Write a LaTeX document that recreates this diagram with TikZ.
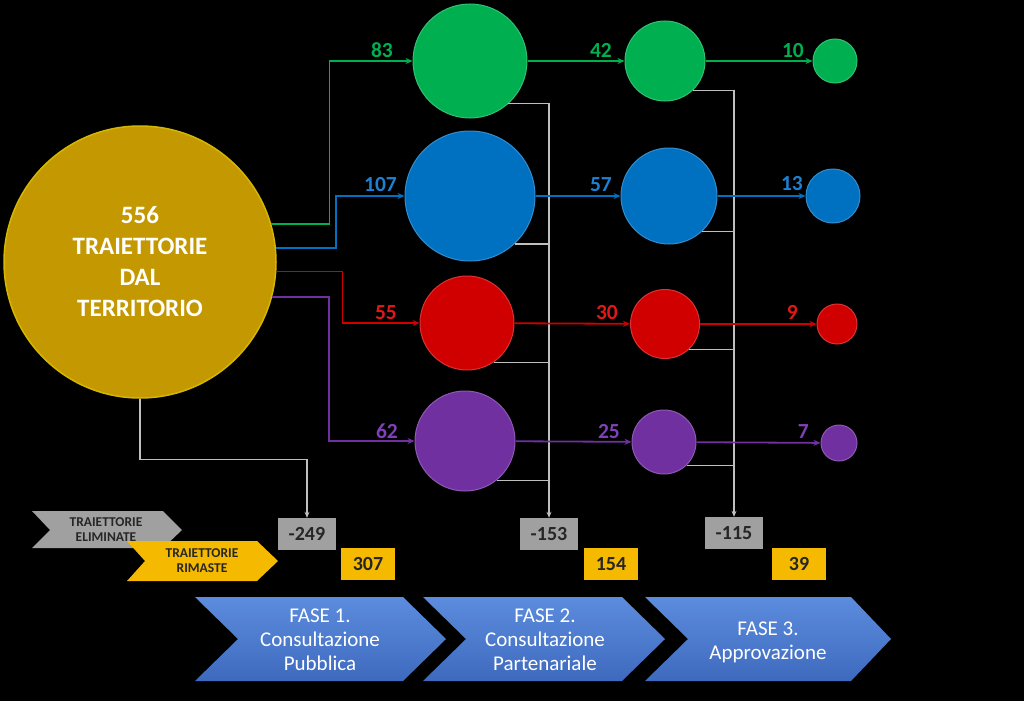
\documentclass[tikz,border=0pt]{standalone}
\usepackage{fontspec}
\setmainfont{Carlito}
\usetikzlibrary{arrows.meta}

\definecolor{gold}{RGB}{196,152,0}
\definecolor{boxgold}{RGB}{245,186,0}
\definecolor{grn}{RGB}{0,176,80}
\definecolor{blu}{RGB}{0,112,192}
\definecolor{rd}{RGB}{208,0,0}
\definecolor{prp}{RGB}{112,48,160}
\definecolor{lgrn}{RGB}{0,176,80}
\definecolor{lblu}{RGB}{30,128,210}
\definecolor{lrd}{RGB}{224,24,24}
\definecolor{lprp}{RGB}{128,64,184}
\definecolor{lgray}{RGB}{191,191,191}
\definecolor{boxgray}{RGB}{160,160,160}
\definecolor{txtdark}{RGB}{38,38,38}
\definecolor{phase}{RGB}{62,106,190}
\definecolor{phasehi}{RGB}{92,140,222}

\begin{document}
\begin{tikzpicture}[x=1pt, y=-1pt,
    ball/.style={circle, fill=#1, draw=#1!80!white, line width=1pt, inner sep=0pt},
    flow/.style={draw=#1, line width=1.8pt, -{Stealth[length=7pt,width=6pt]}},
    drop/.style={draw=lgray, line width=1.3pt},
    num/.style={text=#1, font=\fontsize{21.5}{21.5}\selectfont\bfseries, anchor=base east, inner sep=0pt},
    tally/.style={minimum width=58pt, minimum height=32pt, inner sep=0pt, text=txtdark, font=\fontsize{20}{20}\selectfont\bfseries},
    legend/.style={text=txtdark, align=center, font=\fontsize{13.5}{15}\selectfont\bfseries},
    phasetxt/.style={text=white, align=center, font=\fontsize{21}{24}\selectfont}
  ]
  \path[use as bounding box, fill=black] (0,0) rectangle (1024,701);

  % source
  \node[ball=gold, draw=gold!70!yellow, line width=1.5pt, minimum size=272pt, text=white, align=center,
        font=\fontsize{25}{31}\selectfont\bfseries] (src) at (140,262) {556\\TRAIETTORIE\\DAL\\TERRITORIO};

  % fase 1
  \node[ball=grn, minimum size=114pt] (g1) at (470,61) {};
  \node[ball=blu, minimum size=130pt] (b1) at (470,196) {};
  \node[ball=rd,  minimum size=94pt]  (r1) at (467,323) {};
  \node[ball=prp, minimum size=100pt] (p1) at (465,441) {};

  % fase 2
  \node[ball=grn, minimum size=80pt] (g2) at (665,61) {};
  \node[ball=blu, minimum size=96pt] (b2) at (669,196) {};
  \node[ball=rd,  minimum size=69pt] (r2) at (665,324) {};
  \node[ball=prp, minimum size=64pt] (p2) at (664,442) {};

  % fase 3
  \node[ball=grn, minimum size=44pt] (g3) at (835,61) {};
  \node[ball=blu, minimum size=54pt] (b3) at (833,196) {};
  \node[ball=rd,  minimum size=40pt] (r3) at (837,324) {};
  \node[ball=prp, minimum size=36pt] (p3) at (839,443) {};

  % boxes
  \node[tally, fill=boxgray] (m249) at (307,534) {-249};
  \node[tally, fill=boxgold, minimum width=54pt] (m307) at (368,564) {307};
  \node[tally, fill=boxgray] (m153) at (549,534) {-153};
  \node[tally, fill=boxgold, minimum width=54pt] (m154) at (611,564) {154};
  \node[tally, fill=boxgray] (m115) at (734,533) {-115};
  \node[tally, fill=boxgold, minimum width=54pt] (m39) at (799,564) {39};

  % flows into fase 1
  \draw[flow=grn] (src.16.7) -- ++(58,0) |- (g1);
  \draw[flow=blu] (src.6.75) -- ++(60,0) |- (b1);
  \draw[flow=rd]  (src.-4.6) -- ++(66,0) |- (r1);
  \draw[flow=prp] (src.-15.8) -- ++(57,0) |- (p1);

  % eliminated lines
  \draw[drop, -{Stealth[length=6pt,width=5pt]}] (src.south) -- ++(0,61) -| (m249);
  \draw[drop, -{Stealth[length=6pt,width=5pt]}] (g1.312.5) -| (m153);
  \draw[drop] (b1.313.7) -- (b1.313.7 -| m153);
  \draw[drop] (r1.304) -- (r1.304 -| m153);
  \draw[drop] (p1.309) -- (p1.309 -| m153);
  \draw[drop, -{Stealth[length=6pt,width=5pt]}] (g2.313.5) -| (m115);
  \draw[drop] (b2.313) -- (b2.313 -| m115);
  \draw[drop] (r2.313.5) -- (r2.313.5 -| m115);
  \draw[drop] (p2.314) -- (p2.314 -| m115);

  % flows between phases
  \draw[flow=grn] (g1) -- (g2);
  \draw[flow=blu] (b1) -- (b2);
  \draw[flow=rd]  (r1) -- (r2);
  \draw[flow=prp] (p1) -- (p2);
  \draw[flow=grn] (g2) -- (g3);
  \draw[flow=blu] (b2) -- (b3);
  \draw[flow=rd]  (r2) -- (r3);
  \draw[flow=prp] (p2) -- (p3);

  % numbers
  \node[num=lgrn] (n83) at (393,57) {83};
  \node[num=lblu] (n107) at (397,191) {107};
  \node[num=lrd]  (n55) at (397,319) {55};
  \node[num=lprp] (n62) at (398,438) {62};
  \node[num=lgrn] (n42) at (612,57) {42};
  \node[num=lblu] (n57) at (612,191) {57};
  \node[num=lrd]  (n30) at (618,319) {30};
  \node[num=lprp] (n25) at (620,438) {25};
  \node[num=lgrn] (n10) at (804,57) {10};
  \node[num=lblu] (n13) at (803,190) {13};
  \node[num=lrd]  (n9) at (798,319) {9};
  \node[num=lprp] (n7) at (809,438) {7};

  % legend
  \fill[boxgray] (32,511) -- (163,511) -- (182,530) -- (163,548) -- (32,548) -- (50,530) -- cycle;
  \node[legend] (elim) at (106,530) {TRAIETTORIE\\ELIMINATE};
  \fill[boxgold] (127,541) -- (257,541) -- (278,561) -- (257,581) -- (127,581) -- (145,561) -- cycle;
  \node[legend] (rim) at (202,561) {TRAIETTORIE\\RIMASTE};

  % phases
  \fill[top color=phasehi, bottom color=phase] (195,597) -- (403,597) -- (446,639) -- (403,681) -- (195,681) -- (238,639) -- cycle;
  \fill[top color=phasehi, bottom color=phase] (423,597) -- (622,597) -- (665,639) -- (622,681) -- (423,681) -- (466,639) -- cycle;
  \fill[top color=phasehi, bottom color=phase] (645,597) -- (851,597) -- (891,639) -- (851,681) -- (645,681) -- (688,639) -- cycle;
  \node[phasetxt] (f1) at (320,640) {FASE 1.\\Consultazione\\Pubblica};
  \node[phasetxt] (f2) at (545,640) {FASE 2.\\Consultazione\\Partenariale};
  \node[phasetxt] (f3) at (768,642) {FASE 3.\\Approvazione};
\end{tikzpicture}
\end{document}
